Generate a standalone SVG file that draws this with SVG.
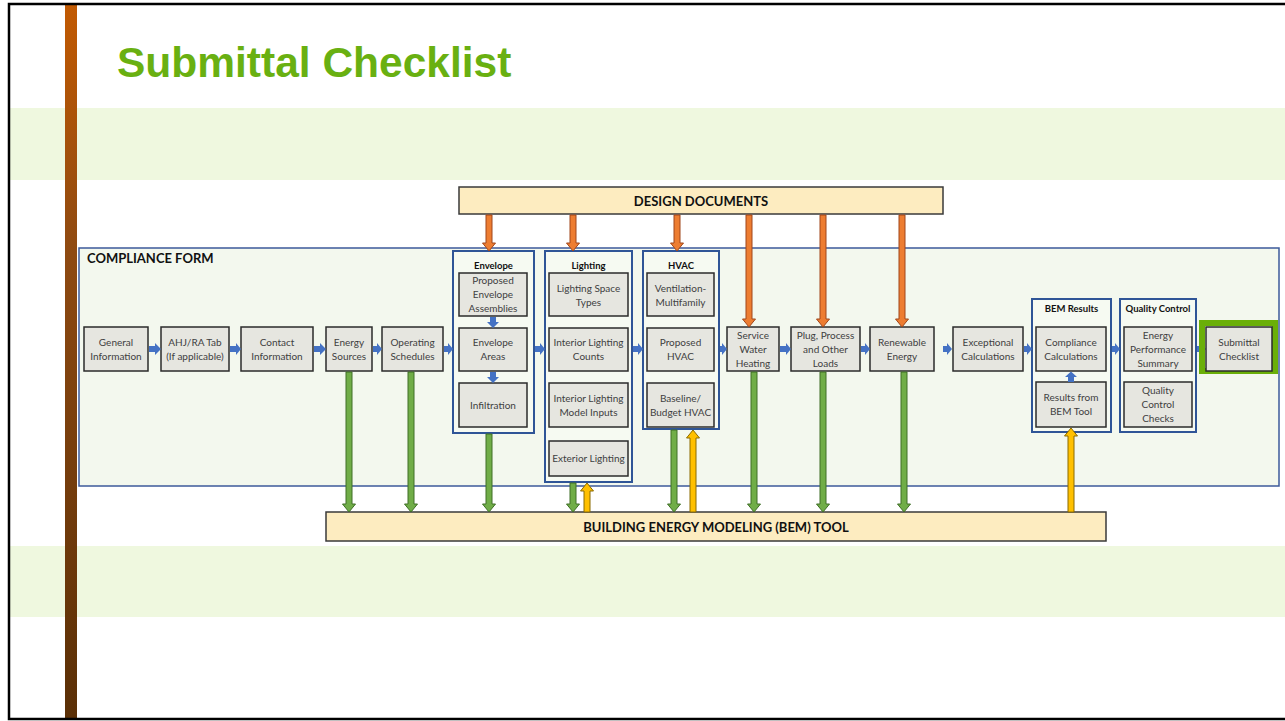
<svg xmlns="http://www.w3.org/2000/svg" width="1285" height="721" viewBox="0 0 1285 721">
<defs>
<linearGradient id="barg" x1="0" y1="0" x2="0" y2="1">
<stop offset="0" stop-color="#c25a02"/>
<stop offset="0.35" stop-color="#8e4a12"/>
<stop offset="1" stop-color="#5a2f06"/>
</linearGradient>
<style>
.band{fill:#eff8df}
.box{fill:#e6e6e0;stroke:#2b2b2b;stroke-width:1.5}
.grp{fill:#f6faf2;stroke:#2f5597;stroke-width:2}
.form{fill:#f3f8ee;stroke:#3c5a9a;stroke-width:1.5}
.doc{fill:#fdecc0;stroke:#3a3a3a;stroke-width:1.5}
.t{font-family:Lato,"Open Sans",sans-serif;font-size:10px;fill:#404040;text-anchor:middle}
.tb{font-family:Lato,"Open Sans",sans-serif;font-weight:bold;font-size:9.5px;fill:#111;text-anchor:middle}
.big{font-family:Lato,"Open Sans",sans-serif;font-weight:bold;font-size:13px;fill:#111}
.ba{fill:#4472c4}
.ga{fill:#70ad47;stroke:#3f6e27;stroke-width:1}
.oa{fill:#ed7d31;stroke:#a0461a;stroke-width:1}
.ya{fill:#ffc000;stroke:#8a6a00;stroke-width:1}
</style>
</defs>
<rect width="1285" height="721" fill="#ffffff"/>
<rect class="band" x="10" y="108" width="1275" height="72"/>
<rect class="band" x="10" y="546" width="1275" height="71"/>
<rect x="65" y="4" width="12" height="715" fill="url(#barg)"/>
<path d="M1285 4 H9 V719 H1285" fill="none" stroke="#000" stroke-width="2.5"/>
<text x="117" y="77" font-family="'Liberation Sans',Arial,sans-serif" font-weight="bold" font-size="42.5" fill="#69b011">Submittal Checklist</text>

<g id="compliance-form">
<rect class="form" x="79" y="248" width="1200" height="238"/>
<text class="big" x="87" y="263">COMPLIANCE FORM</text>
</g>
<g id="design-documents">
<rect class="doc" x="459" y="187" width="484" height="27"/>
<text class="big" x="701" y="205.5" text-anchor="middle">DESIGN DOCUMENTS</text>
</g>
<g id="bem-tool">
<rect class="doc" x="326" y="512" width="780" height="29"/>
<text class="big" x="716" y="531.5" text-anchor="middle">BUILDING ENERGY MODELING (BEM) TOOL</text>
</g>

<g id="general-information">
<rect class="box" x="84" y="327" width="64" height="44"/>
<text class="t" x="116" y="345.5">General</text><text class="t" x="116" y="359.5">Information</text>
</g>
<g id="ahj-ra-tab">
<rect class="box" x="161" y="327" width="68" height="44"/>
<text class="t" x="195" y="345.5">AHJ/RA Tab</text><text class="t" x="195" y="359.5">(If applicable)</text>
</g>
<g id="contact-information">
<rect class="box" x="241" y="327" width="72" height="44"/>
<text class="t" x="277" y="345.5">Contact</text><text class="t" x="277" y="359.5">Information</text>
</g>
<g id="energy-sources">
<rect class="box" x="326" y="327" width="46" height="44"/>
<text class="t" x="349" y="345.5">Energy</text><text class="t" x="349" y="359.5">Sources</text>
</g>
<g id="operating-schedules">
<rect class="box" x="382" y="327" width="61" height="44"/>
<text class="t" x="412.5" y="345.5">Operating</text><text class="t" x="412.5" y="359.5">Schedules</text>
</g>

<g id="envelope">
<rect class="grp" x="453" y="251" width="81" height="182"/>
<text class="tb" x="493.5" y="268.5">Envelope</text>
<rect class="box" x="459" y="273" width="68" height="43"/>
<text class="t" x="493" y="283.5">Proposed</text><text class="t" x="493" y="297.5">Envelope</text><text class="t" x="493" y="311.5">Assemblies</text>
<rect class="box" x="459" y="328" width="68" height="43"/>
<text class="t" x="493" y="345.5">Envelope</text><text class="t" x="493" y="359.5">Areas</text>
<rect class="box" x="459" y="383" width="68" height="44"/>
<text class="t" x="493" y="408.5">Infiltration</text>
</g>

<g id="lighting">
<rect class="grp" x="545" y="251" width="87" height="231"/>
<text class="tb" x="588.5" y="268.5">Lighting</text>
<rect class="box" x="549" y="273" width="79" height="43"/>
<text class="t" x="588.5" y="291.5">Lighting Space</text><text class="t" x="588.5" y="305.5">Types</text>
<rect class="box" x="549" y="328" width="79" height="43"/>
<text class="t" x="588.5" y="345.5">Interior Lighting</text><text class="t" x="588.5" y="359.5">Counts</text>
<rect class="box" x="549" y="383" width="79" height="44"/>
<text class="t" x="588.5" y="401.5">Interior Lighting</text><text class="t" x="588.5" y="415.5">Model Inputs</text>
<rect class="box" x="549" y="441" width="79" height="35"/>
<text class="t" x="588.5" y="462">Exterior Lighting</text>
</g>

<g id="hvac">
<rect class="grp" x="643" y="251" width="76" height="178"/>
<text class="tb" x="681" y="268.5">HVAC</text>
<rect class="box" x="647" y="273" width="67" height="43"/>
<text class="t" x="680.5" y="291.5">Ventilation-</text><text class="t" x="680.5" y="305.5">Multifamily</text>
<rect class="box" x="647" y="328" width="67" height="43"/>
<text class="t" x="680.5" y="345.5">Proposed</text><text class="t" x="680.5" y="359.5">HVAC</text>
<rect class="box" x="647" y="383" width="67" height="44"/>
<text class="t" x="680.5" y="401.5">Baseline/</text><text class="t" x="680.5" y="415.5">Budget HVAC</text>
</g>

<g id="service-water-heating">
<rect class="box" x="727" y="327" width="52" height="44"/>
<text class="t" x="753" y="338.5">Service</text><text class="t" x="753" y="352.5">Water</text><text class="t" x="753" y="366.5">Heating</text>
</g>
<g id="plug-process">
<rect class="box" x="791" y="327" width="69" height="44"/>
<text class="t" x="825.5" y="338.5">Plug, Process</text><text class="t" x="825.5" y="352.5">and Other</text><text class="t" x="825.5" y="366.5">Loads</text>
</g>
<g id="renewable-energy">
<rect class="box" x="870" y="327" width="64" height="44"/>
<text class="t" x="902" y="345.5">Renewable</text><text class="t" x="902" y="359.5">Energy</text>
</g>
<g id="exceptional-calculations">
<rect class="box" x="953" y="327" width="70" height="44"/>
<text class="t" x="988" y="345.5">Exceptional</text><text class="t" x="988" y="359.5">Calculations</text>
</g>

<g id="bem-results">
<rect class="grp" x="1032" y="299" width="79" height="133"/>
<text class="tb" x="1071.5" y="311.5">BEM Results</text>
<rect class="box" x="1036" y="327" width="70" height="44"/>
<text class="t" x="1071" y="345.5">Compliance</text><text class="t" x="1071" y="359.5">Calculations</text>
<rect class="box" x="1036" y="382" width="70" height="45"/>
<text class="t" x="1071" y="400.5">Results from</text><text class="t" x="1071" y="414.5">BEM Tool</text>
</g>

<g id="quality-control">
<rect class="grp" x="1120" y="299" width="76" height="133"/>
<text class="tb" x="1158" y="311.5">Quality Control</text>
<rect class="box" x="1124" y="327" width="68" height="44"/>
<text class="t" x="1158" y="338.5">Energy</text><text class="t" x="1158" y="352.5">Performance</text><text class="t" x="1158" y="366.5">Summary</text>
<rect class="box" x="1124" y="382" width="68" height="45"/>
<text class="t" x="1158" y="394">Quality</text><text class="t" x="1158" y="408">Control</text><text class="t" x="1158" y="422">Checks</text>
</g>

<g id="connectors">
<polygon class="ba" points="149,346 155,346 155,343 161,349 155,355 155,352 149,352"/>
<polygon class="ba" points="230,346 236,346 236,343 241,349 236,355 236,352 230,352"/>
<polygon class="ba" points="314,346 320,346 320,343 326,349 320,355 320,352 314,352"/>
<polygon class="ba" points="373,346 377,346 377,343 382,349 377,355 377,352 373,352"/>
<polygon class="ba" points="444,346 448,346 448,343 453,349 448,355 448,352 444,352"/>
<polygon class="ba" points="535,346 540,346 540,343 545,349 540,355 540,352 535,352"/>
<polygon class="ba" points="633,346 638,346 638,343 643,349 638,355 638,352 633,352"/>
<polygon class="ba" points="720,346 722,346 722,343 727,349 722,355 722,352 720,352"/>
<polygon class="ba" points="780,346 786,346 786,343 791,349 786,355 786,352 780,352"/>
<polygon class="ba" points="861,346 865,346 865,343 870,349 865,355 865,352 861,352"/>
<polygon class="ba" points="943,346 947,346 947,343 952,349 947,355 947,352 943,352"/>
<polygon class="ba" points="1024,346 1027,346 1027,343 1032,349 1027,355 1027,352 1024,352"/>
<polygon class="ba" points="1112,346 1115,346 1115,343 1120,349 1115,355 1115,352 1112,352"/>
<polygon class="ba" points="1197,346 1201,346 1201,343 1206,349 1201,355 1201,352 1197,352"/>
<polygon class="ba" points="490,317 496,317 496,322 499,322 493,328 487,322 490,322"/>
<polygon class="ba" points="490,372 496,372 496,377 499,377 493,383 487,377 490,377"/>
<polygon class="ba" points="1068,382 1074,382 1074,377 1077,377 1071,371.5 1065,377 1068,377"/>

<polygon class="oa" points="486,215 492,215 492,243 495.5,243 489,251 482.5,243 486,243"/>
<polygon class="oa" points="570,215 576,215 576,243 579.5,243 573,251 566.5,243 570,243"/>
<polygon class="oa" points="674,215 680,215 680,243 683.5,243 677,251 670.5,243 674,243"/>
<polygon class="oa" points="746,215 752,215 752,319 755.5,319 749,327 742.5,319 746,319"/>
<polygon class="oa" points="820,215 826,215 826,319 829.5,319 823,327 816.5,319 820,319"/>
<polygon class="oa" points="899,215 905,215 905,319 908.5,319 902,327 895.5,319 899,319"/>

<polygon class="ga" points="346,372 352,372 352,504 355.5,504 349,512 342.5,504 346,504"/>
<polygon class="ga" points="408,372 414,372 414,504 417.5,504 411,512 404.5,504 408,504"/>
<polygon class="ga" points="486,434 492,434 492,504 495.5,504 489,512 482.5,504 486,504"/>
<polygon class="ga" points="570,483 576,483 576,504 579.5,504 573,512 566.5,504 570,504"/>
<polygon class="ga" points="671,430 677,430 677,504 680.5,504 674,512 667.5,504 671,504"/>
<polygon class="ga" points="751,372 757,372 757,504 760.5,504 754,512 747.5,504 751,504"/>
<polygon class="ga" points="820,372 826,372 826,504 829.5,504 823,512 816.5,504 820,504"/>
<polygon class="ga" points="901,372 907,372 907,504 910.5,504 904,512 897.5,504 901,504"/>

<polygon class="ya" points="584,512 590,512 590,491 593.5,491 587,483 580.5,491 584,491"/>
<polygon class="ya" points="690,512 696,512 696,438 699.5,438 693,430 686.5,438 690,438"/>
<polygon class="ya" points="1068,512 1074,512 1074,436 1077.5,436 1071,428 1064.5,436 1068,436"/>
</g>

<g id="submittal-checklist">
<rect x="1202" y="323" width="73" height="48" fill="none" stroke="#6aaf08" stroke-width="6"/>
<rect class="box" x="1206" y="327" width="66" height="44"/>
<text class="t" x="1239" y="345.5">Submittal</text><text class="t" x="1239" y="359.5">Checklist</text>
</g>
</svg>
